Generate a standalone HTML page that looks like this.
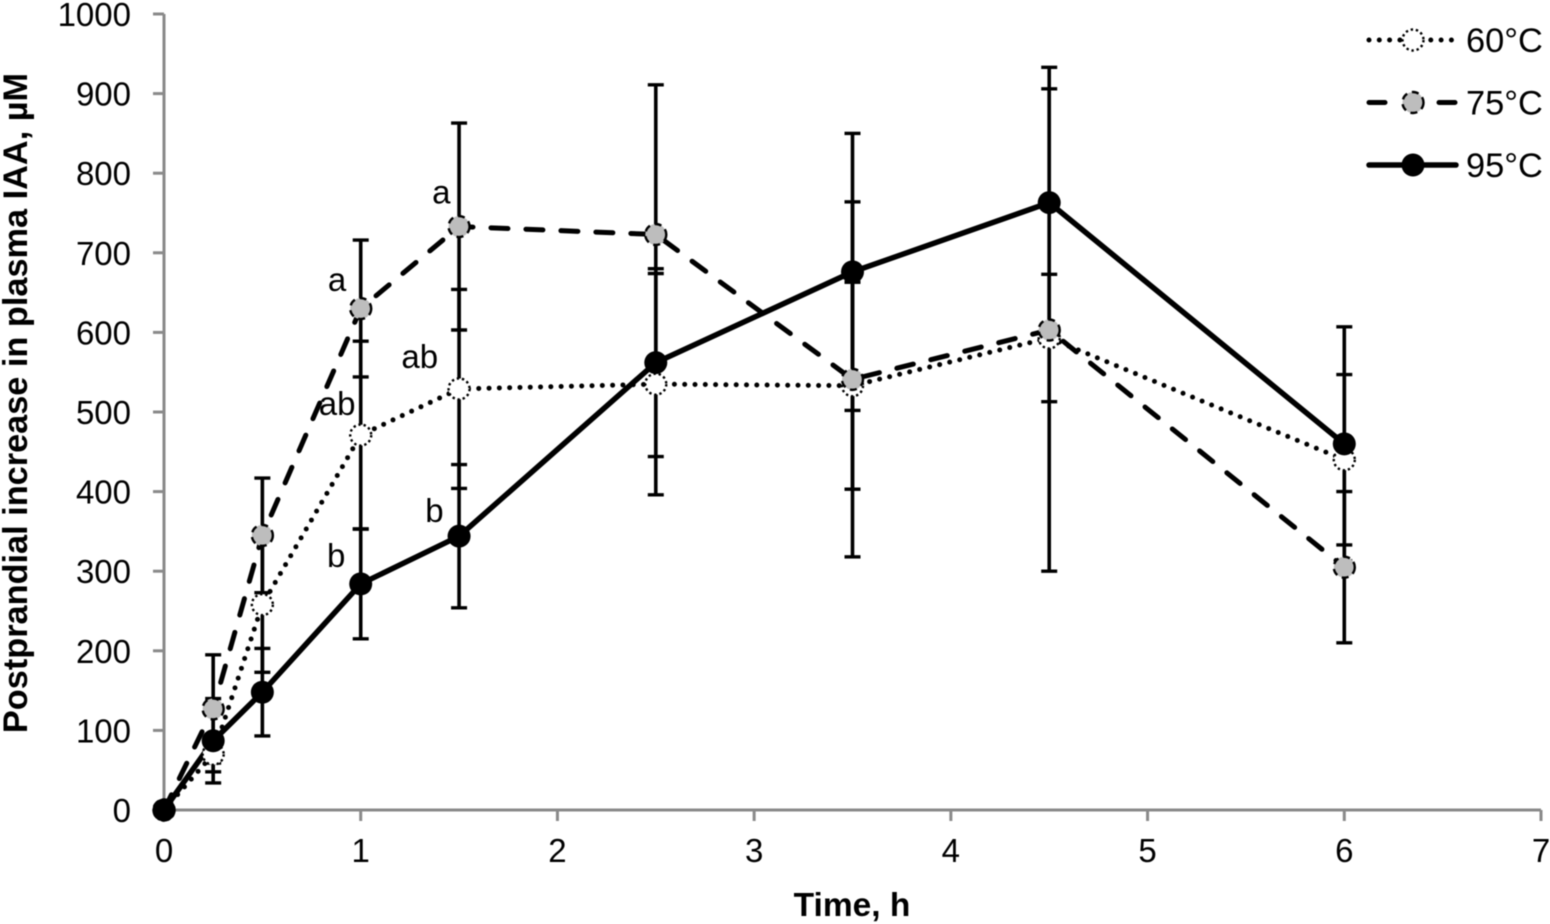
<!DOCTYPE html>
<html lang="en">
<head>
<meta charset="utf-8">
<title>Postprandial increase in plasma IAA</title>
<style>
  html, body { margin: 0; padding: 0; background: #fff; }
  #chart { display: block; width: 1550px; height: 924px; font-family: "Liberation Sans", Arial, sans-serif; fill: #000; filter: blur(0.6px); }
</style>
</head>
<body>
<svg id="chart" xmlns="http://www.w3.org/2000/svg" width="1550" height="924" viewBox="0 0 1550 924">
  <g id="axes"></g>
  <g id="errors"></g>
  <g id="lines"></g>
  <g id="markers"></g>
  <g id="letters"></g>
  <g id="legend"></g>
  <text transform="translate(27,403) rotate(-90)" text-anchor="middle" font-size="34.3" font-weight="700">Postprandial increase in plasma IAA, µM</text>
  <text x="852" y="916" text-anchor="middle" font-size="33.5" font-weight="700">Time, h</text>
</svg>
<script>
const times = [0, 0.25, 0.5, 1, 1.5, 2.5, 3.5, 4.5, 6];
const values60 = [0, 70, 258, 471, 529, 535, 533, 593, 440];
const values75 = [0, 127, 345, 630, 733, 723, 541, 603, 305];
const values95 = [0, 87, 148, 284, 344, 562, 676, 763, 460];
const errors60 = [0, 22, 85, 118, 125, 139, 130, 80, 107];
const errors75 = [0, 68, 72, 86, 130, 188, 223, 303, 95];
const errors95 = [0, 53, 55, 69, 90, 118, 174, 170, 147];
const xTicks = [0, 1, 2, 3, 4, 5, 6, 7];
const yTicks = [0, 100, 200, 300, 400, 500, 600, 700, 800, 900, 1000];
const seriesNames = ['60°C', '75°C', '95°C'];
const letterLabels = ['a', 'ab', 'b', 'a', 'ab', 'b'];
const letterTimes = [0.88, 0.88, 0.875, 1.41, 1.3, 1.375];
const letterValues = [652, 496, 305, 762, 555, 362];

const NS = 'http://www.w3.org/2000/svg';
function xScale(t) { return 164 + t * (1541 - 164) / 7; }
function yScale(v) { return 810 - v * (810 - 14) / 1000; }
function make(parent, tag, props) {
  const node = document.createElementNS(NS, tag);
  for (const k in props) node.setAttribute(k, props[k]);
  parent.appendChild(node);
  return node;
}
const gAxes = document.getElementById('axes');
const gErrors = document.getElementById('errors');
const gLines = document.getElementById('lines');
const gMarkers = document.getElementById('markers');
const gLetters = document.getElementById('letters');
const gLegend = document.getElementById('legend');

const AXIS = '#8a8a8a';
const yLine = make(gAxes, 'line', { x1: xScale(0), y1: yScale(1000), x2: xScale(0), y2: yScale(0), stroke: AXIS, 'stroke-width': 3 });


const xLine = make(gAxes, 'line', { x1: xScale(0), y1: yScale(0), x2: xScale(7), y2: yScale(0), stroke: AXIS, 'stroke-width': 3 });



yTicks.forEach(function (v) {
  const tick = make(gAxes, 'line', { x1: 153, y1: yScale(v), x2: xScale(0), y2: yScale(v), stroke: AXIS, 'stroke-width': 3 });
  
  
  const label = make(gAxes, 'text', { x: 131, y: yScale(v) + 12, 'text-anchor': 'end', 'font-size': 33 });
  
  
  label.textContent = v;
});
xTicks.forEach(function (t) {
  const tick = make(gAxes, 'line', { x1: xScale(t), y1: yScale(0), x2: xScale(t), y2: 821, stroke: AXIS, 'stroke-width': 3 });
  
  
  const label = make(gAxes, 'text', { x: xScale(t), y: 862, 'text-anchor': 'middle', 'font-size': 33 });
  
  
  label.textContent = t;
});

function drawErrors(vals, errs) {
  times.forEach(function (t, i) {
    if (errs[i] === 0) return;
    const x = xScale(t);
    const top = yScale(vals[i] + errs[i]);
    const bottom = yScale(vals[i] - errs[i]);
    const stem = make(gErrors, 'line', { x1: x, y1: top, x2: x, y2: bottom, stroke: '#000', 'stroke-width': 3.6 });
    
    
    const capTop = make(gErrors, 'line', { x1: x - 8, y1: top, x2: x + 8, y2: top, stroke: '#000', 'stroke-width': 3.4 });
    
    
    const capBottom = make(gErrors, 'line', { x1: x - 8, y1: bottom, x2: x + 8, y2: bottom, stroke: '#000', 'stroke-width': 3.4 });
    
    
  });
}
drawErrors(values60, errors60);
drawErrors(values75, errors75);
drawErrors(values95, errors95);

function pointsFor(vals) {
  return times.map(function (t, i) { return xScale(t) + ',' + yScale(vals[i]); }).join(' ');
}
const line60 = make(gLines, 'polyline', { points: pointsFor(values60), fill: 'none', stroke: '#000', 'stroke-width': 5, 'stroke-linecap': 'round', 'stroke-dasharray': '0 10.3' });


const line75 = make(gLines, 'polyline', { points: pointsFor(values75), fill: 'none', stroke: '#000', 'stroke-width': 5, 'stroke-linecap': 'round', 'stroke-dasharray': '17 18' });


const line95 = make(gLines, 'polyline', { points: pointsFor(values95), fill: 'none', stroke: '#000', 'stroke-width': 5.5, 'stroke-linejoin': 'round' });



function marker60(parent, x, y) {
  const m = make(parent, 'circle', { cx: x, cy: y, r: 10.5, fill: '#fff', stroke: '#000', 'stroke-width': 2.4, 'stroke-dasharray': '2.4 2.8' });
  
  
}
function marker75(parent, x, y) {
  const m = make(parent, 'circle', { cx: x, cy: y, r: 10.5, fill: '#bdbdbd', stroke: '#000', 'stroke-width': 2.4, 'stroke-dasharray': '7 5' });
  
  
}
function marker95(parent, x, y) {
  const m = make(parent, 'circle', { cx: x, cy: y, r: 11.5, fill: '#000' });
  
  
}
times.forEach(function (t, i) { marker60(gMarkers, xScale(t), yScale(values60[i])); });
times.forEach(function (t, i) { marker75(gMarkers, xScale(t), yScale(values75[i])); });
times.forEach(function (t, i) { marker95(gMarkers, xScale(t), yScale(values95[i])); });

letterLabels.forEach(function (s, i) {
  const label = make(gLetters, 'text', { x: xScale(letterTimes[i]), y: yScale(letterValues[i]), 'text-anchor': 'middle', 'font-size': 33 });
  
  
  label.textContent = s;
});

const legendDash = ['0 10.3', '16 54', 'none'];
const legendWidth = [5, 5, 5.5];
const legendMarkers = [marker60, marker75, marker95];
seriesNames.forEach(function (name, i) {
  const y = 40 + i * 62.5;
  const sample = make(gLegend, 'line', { x1: 1369, y1: y, x2: 1456, y2: y, stroke: '#000', 'stroke-width': legendWidth[i], 'stroke-linecap': 'round', 'stroke-dasharray': legendDash[i] });
  
  
  legendMarkers[i](gLegend, 1413, y);
  const label = make(gLegend, 'text', { x: 1466, y: y + 12, 'font-size': 34.4 });
  
  
  label.textContent = name;
});
</script>
</body>
</html>
